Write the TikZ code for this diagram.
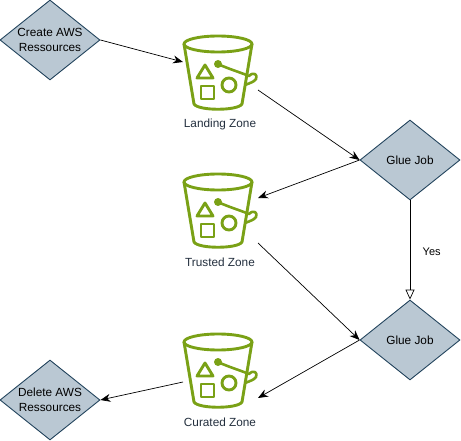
\documentclass[tikz,border=0pt]{standalone}
\usepackage{fontspec}
\setmainfont{Liberation Sans}
\usetikzlibrary{arrows.meta,shapes.geometric}
\definecolor{zonegreen}{HTML}{7AA116}
\definecolor{gluefill}{HTML}{BAC8D3}
\definecolor{gluedraw}{HTML}{23445D}
\definecolor{zonetext}{HTML}{232F3E}
\tikzset{
    gluebox/.style={diamond, aspect=1.25, draw=gluedraw, fill=gluefill, line width=0.9pt, inner sep=0pt,
        minimum width=100pt, minimum height=80pt, align=center, font=\fontsize{11.8}{14.5}\selectfont},
    zonelabel/.style={text=zonetext, font=\fontsize{11.8}{14}\selectfont},
    flow/.style={-{Stealth[length=10pt,width=8pt]}, line width=0.7pt},
    bucketline/.style={draw=zonegreen, line width=2.9pt, line join=round},
    pics/bucket/.style={code={
        \draw[bucketline] (0,0) ellipse (34 and 8); % Borda
        \draw[bucketline] (-34,0) -- (-24,60) .. controls (-20,67) and (20,67) .. (24,60) -- (34,0); % Corpo
        \draw[bucketline] (-21,34) -- (-5,34) -- (-13,21) -- cycle; % Triangulo
        \draw[bucketline] (-17,42) rectangle (-4,55); % Quadrado
        \draw[bucketline] (11,41) circle (7); % Circulo
        \fill[zonegreen] (0,20) circle (4); % Ponto da alca
        \draw[bucketline, line width=2.6pt] (0,20) .. controls (8,24) and (24,29) .. (31,32) .. controls (36,27) and (40,31) .. (38,35) .. controls (36,38) and (32,39) .. (27,41); % Alca
    }}
}
\begin{document}
\begin{tikzpicture}[x=1pt, y=-1pt]
    \useasboundingbox (0,0) rectangle (461,441);
    \pic at (218,44) {bucket}; % Landing
    \pic at (218,182) {bucket}; % Trusted
    \pic at (218,342) {bucket}; % Curated

    \node[zonelabel] (landing) at (220,124) {Landing Zone};
    \node[zonelabel] (trusted) at (220,262) {Trusted Zone};
    \node[zonelabel] (curated) at (220,422) {Curated Zone};

    \node[gluebox] (create) at (50,40) {Create AWS\\Ressources};
    \node[gluebox] (jobone) at (410,160) {Glue Job};
    \node[gluebox] (jobtwo) at (410,340) {Glue Job};
    \node[gluebox] (delete) at (50,400) {Delete AWS\\Ressources};

    \coordinate (landingin) at (183,62);
    \coordinate (landingout) at (258,90);
    \coordinate (trustedin) at (258,198);
    \coordinate (trustedout) at (258,243);
    \coordinate (curatedin) at (258,398);
    \coordinate (curatedout) at (183,382);

    \draw[flow] (create.east) -- (landingin);
    \draw[flow] (landingout) -- (jobone.west);
    \draw[flow] (jobone.west) -- (trustedin);
    \draw[flow] (trustedout) -- (jobtwo.west);
    \draw[flow] (jobtwo.west) -- (curatedin);
    \draw[flow] (curatedout) -- (delete.east);
    \draw[-{Triangle[open,length=10pt,width=9pt]}, line width=0.7pt] (jobone.south) -- node[right, xshift=9pt, yshift=-2pt, font=\fontsize{11}{12}\selectfont] {Yes} (jobtwo.north);
\end{tikzpicture}
\end{document}
